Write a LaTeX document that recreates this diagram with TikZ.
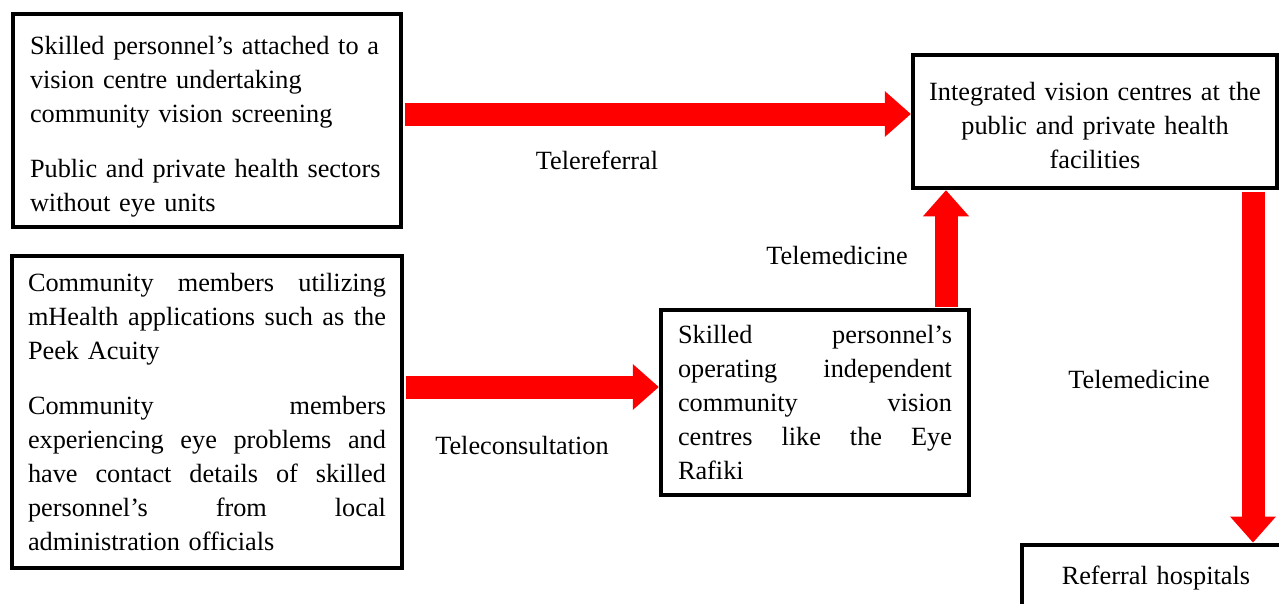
\documentclass[tikz,border=0pt]{standalone}
\usepackage{fontspec}
\setmainfont{Liberation Serif}
\usetikzlibrary{arrows.meta}
% one fully justified line of a box text: the spaces take up the slack
\newcommand\jline[1]{\leavevmode\hbox to \hsize{\spaceskip=0.25em plus 1fil\relax #1}}
\begin{document}
\begin{tikzpicture}[x=1pt,y=-1pt,
  txt/.style={font=\fontsize{26.3}{34}\selectfont},
  box/.style={txt, draw=black, line width=3.5pt, rectangle, inner ysep=0pt},
  lbl/.style={txt, inner sep=0pt},
  flow/.style={draw=red, line width=23pt, shorten <=1.75pt, shorten >=0.5pt,
    -{Triangle[length=26pt,width=46pt,line width=0pt]}}
]
\useasboundingbox (0,0) rectangle (1279,603);
\clip (0,0) rectangle (1279,603);
\fill[white] (0,0) rectangle (1279,603);

% boxes (a tall strut on the first line lowers the text block a little)
\node[box, minimum width=388pt, minimum height=213pt, text width=354pt,
  inner xsep=17pt, align=left] (A) at (207,120.5)
  {\rule{0pt}{30pt}Skilled personnel’s attached to a\\
   vision centre undertaking\\
   community vision screening\\[21pt]
   Public and private health sectors\\
   without eye units};

\node[box, minimum width=390pt, minimum height=312pt, text width=358pt,
  inner xsep=16pt, align=left] (B) at (207,412)
  {\jline{Community members utilizing}\\
   \jline{mHealth applications such as the}\\
   Peek Acuity\\[21pt]
   \jline{Community members}\\
   \jline{experiencing eye problems and}\\
   \jline{have contact details of skilled}\\
   \jline{personnel’s from local}\\
   administration officials};

\node[box, minimum width=364pt, minimum height=133pt, text width=340pt,
  inner xsep=12pt, align=center] (C) at (1095,121.5)
  {\rule{0pt}{26pt}Integrated vision centres at the\\
   public and private health\\
   facilities};

\node[box, minimum width=308pt, minimum height=185pt, text width=274pt,
  inner xsep=17pt, align=left] (D) at (815,402.5)
  {\jline{Skilled personnel’s}\\
   \jline{operating independent}\\
   \jline{community vision}\\
   \jline{centres like the Eye}\\
   Rafiki};

\node[box, anchor=north west, minimum width=280pt, minimum height=66pt,
  text width=200pt, inner xsep=39pt, align=left] (E) at (1020,543)
  {Referral hospitals};

% connectors
\draw[flow] (A.east |- 0,114) -- (C.west |- 0,114);
\draw[flow] (B.east |- 0,387) -- (D.west |- 0,387);
\draw[flow] (D.north -| 946,0) -- (C.south -| 946,0);
\draw[flow] (C.south -| 1253,0) -- (E.north -| 1253,0);

% connector labels
\node[lbl] (telereferral) at (597,160) {Telereferral};
\node[lbl] (telemedUp) at (837,255) {Telemedicine};
\node[lbl] (telemedDown) at (1139,379) {Telemedicine};
\node[lbl] (teleconsult) at (522,445) {Teleconsultation};
\end{tikzpicture}
\end{document}
